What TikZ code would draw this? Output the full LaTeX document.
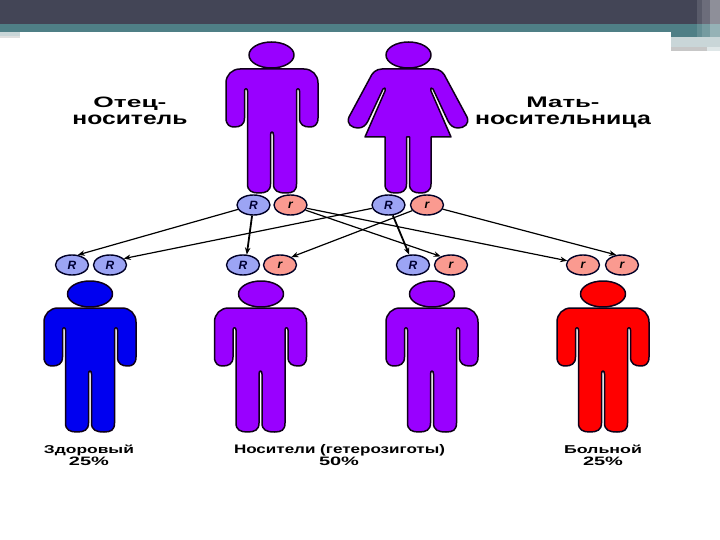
\documentclass[tikz,border=0pt]{standalone}
\usepackage{fontspec}
\setmainfont{Liberation Sans}
\usetikzlibrary{shapes.geometric,arrows.meta}
\definecolor{darkbar}{HTML}{434556}
\definecolor{tealbar}{HTML}{4F7F86}
\definecolor{paleteal}{HTML}{C9D6D8}
\definecolor{purp}{HTML}{9900FF}
\definecolor{blu}{HTML}{0000F0}
\definecolor{rd}{HTML}{FF0000}
\definecolor{allR}{HTML}{9CA4F4}
\definecolor{allr}{HTML}{FA9A90}
\tikzset{
 x=1pt,y=-1pt,
 figline/.style={draw=black!90!purp,line width=1.5pt,line join=round},
 headshape/.style={ellipse,figline,minimum width=45pt,minimum height=26pt,inner sep=0pt},
 allele/.style={ellipse,draw=black!85!blue,line width=1.4pt,minimum width=33pt,minimum height=20pt,inner sep=0pt,font=\bfseries\itshape\fontsize{12}{13}\selectfont},
 domR/.style={allele,fill=allR,text=black!80!blue},
 recr/.style={allele,fill=allr},
 link/.style={draw=black,line width=1.2pt,-{Stealth[length=7pt,width=5.5pt]}},
 thicklink/.style={link,line width=1.8pt},
 caption/.style={inner sep=0pt,text=black,anchor=base},
}
\newcommand{\manbody}[3]{% cx, top, colour
 \begin{scope}[shift={(#1,#2)}]
 \path[figline,fill=#3]
  (-32,0) -- (32,0)
  .. controls (40,0) and (46,6) .. (46,14)
  -- (46,49) .. controls (46,56) and (42,58) .. (38,58)
  .. controls (32,58) and (27.5,56) .. (27.5,49)
  -- (27.5,22) .. controls (27.5,19) and (24.5,19) .. (24.5,22)
  -- (24.5,115) .. controls (24.5,122) and (21,124) .. (14,124)
  .. controls (6,124) and (1.5,122) .. (1.5,115)
  -- (1.5,66) .. controls (1.5,62) and (-1.5,62) .. (-1.5,66)
  -- (-1.5,115) .. controls (-1.5,122) and (-6,124) .. (-13,124)
  .. controls (-20,124) and (-24.5,122) .. (-24.5,115)
  -- (-24.5,22) .. controls (-24.5,19) and (-27.5,19) .. (-27.5,22)
  -- (-27.5,49) .. controls (-27.5,56) and (-32,58) .. (-38,58)
  .. controls (-42,58) and (-46,56) .. (-46,49)
  -- (-46,14) .. controls (-46,6) and (-40,0) .. (-32,0) -- cycle;
 \end{scope}}
\newcommand{\womanbody}[3]{%
 \begin{scope}[shift={(#1,#2)}]
 \path[figline,fill=#3]
  (-26,0) -- (26,0)
  .. controls (32,0) and (36,4) .. (38,9)
  -- (59,48) .. controls (62,55) and (56,59) .. (50,59)
  .. controls (45,59) and (42,56) .. (40,52)
  -- (25,20) .. controls (24,18) and (22,19) .. (23,22)
  -- (43,68) -- (23,68)
  -- (23,115) .. controls (23,122) and (18,124) .. (13,124)
  .. controls (6,124) and (1.5,122) .. (1.5,115)
  -- (1.5,68) -- (-1.5,68)
  -- (-1.5,115) .. controls (-1.5,122) and (-6,124) .. (-12,124)
  .. controls (-19,124) and (-23,122) .. (-23,115)
  -- (-23,68) -- (-43,68)
  -- (-23,22) .. controls (-22,19) and (-24,18) .. (-25,20)
  -- (-40,52) .. controls (-42,56) and (-45,59) .. (-50,59)
  .. controls (-56,59) and (-62,55) .. (-59,48)
  -- (-38,9) .. controls (-36,4) and (-32,0) .. (-26,0) -- cycle;
 \end{scope}}
\newcommand{\lab}[3]{\resizebox{#1pt}{#2pt}{\textbf{#3}}}
\begin{document}
\begin{tikzpicture}
\useasboundingbox (0,0) rectangle (720,540);
\fill[white] (0,0) rectangle (720,540);
% slide header
\fill[paleteal] (0,32) rectangle (20,36);
\fill[black!12] (0,36) rectangle (20,38);
\fill[paleteal] (671,37) rectangle (720,47);
\fill[black!22] (671,47) rectangle (707,51);
\fill[paleteal!60] (707,47) rectangle (720,51);
\fill[darkbar] (0,0) rectangle (720,24);
\fill[tealbar] (0,24) rectangle (720,32);
\fill[tealbar] (671,32) rectangle (720,37);
\fill[white,opacity=.12] (697,0) rectangle (702,37);
\fill[white,opacity=.22] (702,0) rectangle (710,37);
\fill[white,opacity=.4] (710,0) rectangle (720,37);
\fill[white] (20,32) rectangle (671,540);
% parents
\manbody{272}{69}{purp}
\womanbody{408}{69}{purp}
\node[headshape,fill=purp] (headF) at (271.5,55) {};
\node[headshape,fill=purp] (headM) at (408.5,55) {};
% children
\manbody{90}{308}{blu}
\manbody{260.5}{308}{purp}
\manbody{432}{308}{purp}
\manbody{603}{308}{rd}
\node[headshape,fill=blu] (headA) at (90,294) {};
\node[headshape,fill=purp] (headB) at (261,294) {};
\node[headshape,fill=purp] (headC) at (432,294) {};
\node[headshape,fill=rd] (headD) at (603,294) {};
% alleles
\node[domR] (pR) at (253.5,205) {R};
\node[recr] (pr) at (290.5,205) {r};
\node[domR] (mR) at (388.5,205) {R};
\node[recr] (mr) at (427,205) {r};
\node[domR] (a1) at (72,265) {R};
\node[domR] (a2) at (110,265) {R};
\node[domR] (b1) at (243,265) {R};
\node[recr] (b2) at (280,265) {r};
\node[domR] (c1) at (413,265) {R};
\node[recr] (c2) at (451,265) {r};
\node[recr] (d1) at (583,265) {r};
\node[recr] (d2) at (622,265) {r};
% connectors
\draw[link] (pR) -- (a1.60);
\draw[thicklink] (pR) -- (b1.70);
\draw[link] (pr) -- (c2.140);
\draw[link] (pr) -- (d1.165);
\draw[link] (mR) -- (a2.25);
\draw[thicklink] (mR) -- (c1.110);
\draw[link] (mr) -- (b2.35);
\draw[link] (mr) -- (d2.120);
% captions
\node[caption] (t1) at (130,108) {\lab{73}{10.5}{Отец-}};
\node[caption] (t2) at (130,124.5) {\lab{115}{9.5}{носитель}};
\node[caption] (t3) at (563,108) {\lab{73}{10.5}{Мать-}};
\node[caption] (t4) at (563,124.5) {\lab{176}{9.5}{носительница}};
\node[caption] (t5) at (89,453) {\lab{90}{8.5}{Здоровый}};
\node[caption] (t6) at (89,465) {\lab{40}{8.5}{25\%}};
\node[caption] (t7) at (339.5,453) {\lab{211}{9}{Носители (гетерозиготы)}};
\node[caption] (t8) at (339,465) {\lab{40}{8.5}{50\%}};
\node[caption] (t9) at (603,453) {\lab{78}{8.5}{Больной}};
\node[caption] (t10) at (603,465) {\lab{40}{8.5}{25\%}};
\end{tikzpicture}
\end{document}
